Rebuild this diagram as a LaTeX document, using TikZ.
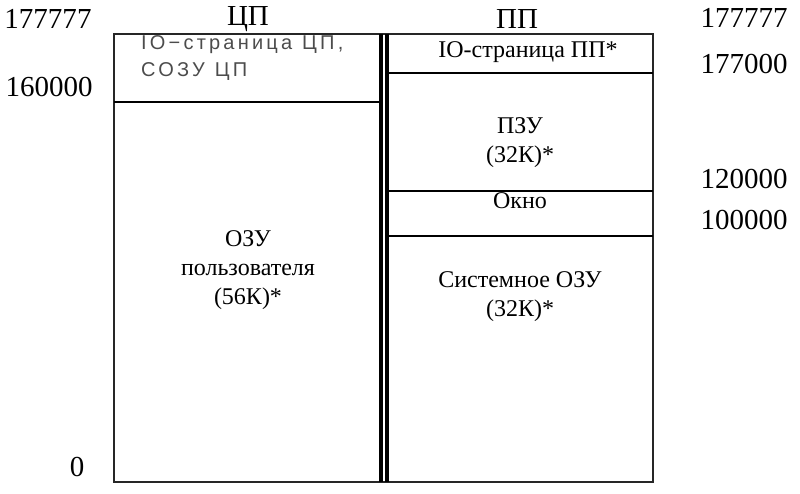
\documentclass[tikz,border=0pt]{standalone}
\usepackage{fontspec}
\setmainfont{Liberation Serif}
\newfontfamily\graysans[LetterSpace=16]{Liberation Sans}
\begin{document}
\begin{tikzpicture}[x=1pt,y=-1pt,
  big/.style={font=\fontsize{29}{32}\selectfont, inner sep=0pt},
  mid/.style={font=\fontsize{24}{29}\selectfont, inner sep=0pt, align=center},
  faint/.style={font=\graysans\fontsize{20}{27}\selectfont, text=black!70, inner sep=0pt, align=left},
  frame/.style={line width=1.8pt, draw=black!85},
  sep/.style={line width=2pt},
  dbl/.style={line width=3.2pt}]
\useasboundingbox (0,0) rectangle (800,494);
% frame
\draw[frame] (114,34) rectangle (653,482);
\draw[dbl] (381,34) -- (381,482);
\draw[dbl] (387,34) -- (387,482);
\draw[line width=2.6pt] (114,102) -- (381,102);
\draw[sep] (387,73) -- (653,73);
\draw[sep] (387,191) -- (653,191);
\draw[sep] (387,236) -- (653,236);
% headers
\node[big] (cpu) at (248,19) {ЦП};
\node[big] (pp) at (517,19) {ПП};
% addresses
\node[big] (a1) at (48,19) {177777};
\node[big] (a2) at (49,87) {160000};
\node[big] (a3) at (77,467) {0};
\node[big] (b1) at (744,18) {177777};
\node[big] (b2) at (744,64) {177000};
\node[big] (b3) at (744,179) {120000};
\node[big] (b4) at (744,220) {100000};
% contents
\node[faint, anchor=north west] (io1) at (141,35) {IO−страница\hspace{10pt}ЦП,\\СОЗУ\hspace{10pt}ЦП};
\node[mid] (ozu) at (248,270) {ОЗУ\\пользователя\\(56К)*};
\node[mid] (io2) at (528,52) {IO-страница ПП*};
\node[mid] (pzu) at (520,143) {ПЗУ\\(32К)*};
\node[mid] (okno) at (520,201) {Окно};
\node[mid] (sys) at (520,297) {Системное ОЗУ\\(32К)*};
\end{tikzpicture}
\end{document}
